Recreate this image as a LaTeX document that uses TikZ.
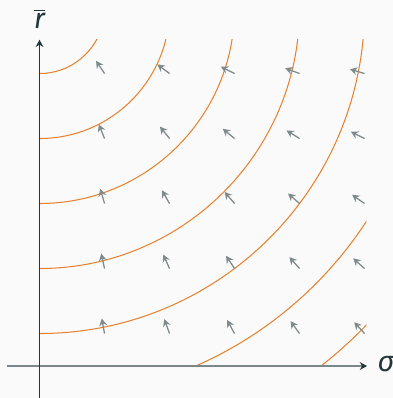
\documentclass[tikz,border=0pt]{standalone}
\usepackage{fontspec}
\setmainfont{Fira Sans}
\usetikzlibrary{arrows.meta}
\definecolor{axisdark}{HTML}{23373B}
\definecolor{axisgray}{HTML}{7C878B}
\definecolor{curveorange}{HTML}{E8812B}
\definecolor{fieldgray}{HTML}{7F8A8C}
\definecolor{paper}{HTML}{FAFAFA}

\begin{document}
\begin{tikzpicture}[
  x=1cm,
  y=1cm,
  >=Stealth,
  axis/.style={line width=0.6pt, draw=axisdark},
  level/.style={line width=0.45pt, draw=curveorange},
  field/.style={line width=0.55pt, draw=fieldgray, fill=fieldgray, -{Stealth[length=3.2pt,width=3.4pt]}},
  axislabel/.style={font=\fontsize{12.5}{14}\selectfont, text=axisdark, inner sep=0pt, anchor=base}
]
  \fill[paper] (-0.608,-0.492) rectangle (5.438,5.631);
  \useasboundingbox (-0.608,-0.492) rectangle (5.438,5.631);

  \coordinate (origin) at (0,0);
  \coordinate (sigmaleft) at (-0.5,0);
  \coordinate (sigmaright) at (5.04,0);
  \coordinate (rbottom) at (0,-0.492);
  \coordinate (rtop) at (0,5.02);
  \coordinate (bliss) at (0,5.5);

  \begin{scope}
    \clip (origin) rectangle (5.03,5.03);
    \foreach \k in {1,...,7}
      \draw[level] (bliss) circle (\k);
  \end{scope}

  \foreach \i in {1,...,5}
    \foreach \j in {0.5,1.5,...,4.5} {
      \pgfmathsetmacro{\len}{sqrt(\i*\i+(6-\j)*(6-\j))}
      \draw[field] (\i,\j) -- ++({-0.235*\i/\len},{0.235*(6-\j)/\len});
    }

  \draw[line width=0.75pt, draw=axisgray, -{Stealth[length=3.2pt,width=3.4pt,color=axisdark]}] (sigmaleft) -- (sigmaright);
  \draw[axis, -{Stealth[length=3.2pt,width=3.4pt]}] (rbottom) -- (rtop);

  \node[axislabel] (sigmalabel) at (5.33,-0.09) {\textit{σ}};
  \node[axislabel] (rlabel) at (0,5.185) {$\overline{\textit{r}}$};
\end{tikzpicture}
\end{document}
